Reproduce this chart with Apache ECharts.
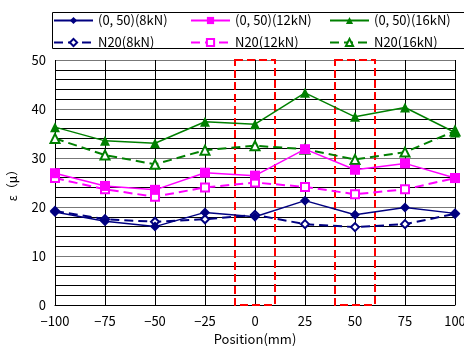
<!DOCTYPE html>
<html>
<head>
<meta charset="utf-8">
<script src="https://cdn.jsdelivr.net/npm/echarts@6/dist/echarts.min.js"></script>
<style>
  html, body { margin: 0; padding: 0; background: #fff; }
  #chart { width: 464px; height: 346px; }
</style>
</head>
<body>
<div id="chart"></div>
<script>
const positions = [-100, -75, -50, -25, 0, 25, 50, 75, 100]
const s8kN = [19.0, 17.1, 16.0, 18.9, 18.0, 21.3, 18.4, 19.9, 18.7]
const n8kN = [19.2, 17.5, 17.0, 17.5, 18.4, 16.5, 15.9, 16.5, 18.6]
const s12kN = [26.9, 24.3, 23.5, 27.0, 26.4, 31.8, 27.6, 28.9, 25.9]
const n12kN = [25.9, 23.6, 22.1, 24.0, 25.0, 24.1, 22.6, 23.6, 25.9]
const s16kN = [36.3, 33.5, 33.0, 37.4, 36.9, 43.3, 38.4, 40.3, 35.2]
const n16kN = [34.0, 30.6, 28.7, 31.6, 32.5, 31.8, 29.7, 31.2, 35.5]
const zones = [[-10, 10], [40, 60]]

const font = "'Noto Sans CJK JP', sans-serif"
const pair = (ys) => positions.map((x, i) => [x, ys[i]])

const mk = (name, data, color, dashed, symbol, size) => ({
  name,
  type: 'line',
  data: pair(data),
  symbol,
  symbolSize: size,
  showSymbol: true,
  z: dashed ? 3 : 4,
  lineStyle: { color, width: dashed ? 2 : 1.5, type: dashed ? [9, 5] : 'solid' },
  itemStyle: { color, borderColor: color, borderWidth: dashed ? 1.2 : 0 },
  emphasis: { disabled: true },
})

const series = [
  mk('(0, 50)(8kN)', s8kN, '#000080', false, 'diamond', 10),
  mk('N20(8kN)', n8kN, '#000080', true, 'emptyDiamond', 8),
  mk('(0, 50)(12kN)', s12kN, '#ff00ff', false, 'rect', 10),
  mk('N20(12kN)', n12kN, '#ff00ff', true, 'emptyRect', 8),
  mk('(0, 50)(16kN)', s16kN, '#008000', false, 'triangle', 10),
  mk('N20(16kN)', n16kN, '#008000', true, 'emptyTriangle', 9),
]
series[0].markArea = {
  silent: true,
  itemStyle: { color: 'transparent', borderColor: '#ff0000', borderWidth: 2, borderType: [8, 4] },
  data: zones.map(z => [{ xAxis: z[0], yAxis: 50 }, { xAxis: z[1], yAxis: 0 }]),
}

const leg = (left, names) => ({
  left, top: 14, orient: 'vertical', itemGap: 9, padding: 0,
  itemWidth: 39, itemHeight: 9,
  textStyle: { fontFamily: font, fontSize: 13, color: '#000' },
  data: names,
})

const chart = echarts.init(document.getElementById('chart'))
chart.setOption({
  animation: false,
  backgroundColor: '#fff',
  grid: { left: 55, right: 9, top: 60, bottom: 41, outerBoundsMode: 'none' },
  legend: [
    leg(53, ['(0, 50)(8kN)', 'N20(8kN)']),
    leg(190, ['(0, 50)(12kN)', 'N20(12kN)']),
    leg(329, ['(0, 50)(16kN)', 'N20(16kN)']),
  ],
  graphic: [{
    type: 'rect', left: 50, top: 10,
    shape: { width: 412, height: 36 },
    style: { fill: 'none', stroke: '#000', lineWidth: 1 },
  }],
  xAxis: {
    type: 'value', min: -100, max: 100, interval: 25,
    name: 'Position(mm)', nameLocation: 'middle', nameGap: 28,
    nameTextStyle: { fontFamily: font, fontSize: 13, color: '#000' },
    axisLine: { lineStyle: { color: '#000' } },
    axisTick: { show: false },
    axisLabel: { fontFamily: font, fontSize: 13, color: '#000', margin: 10,
      formatter: v => v < 0 ? '\u2212' + Math.abs(v) : String(v) },
    splitLine: { show: true, lineStyle: { color: '#000', width: 1 } },
  },
  yAxis: {
    type: 'value', min: 0, max: 50, interval: 10,
    name: 'ε（μ）', nameLocation: 'middle', nameGap: 37, nameRotate: 90,
    nameTextStyle: { fontFamily: font, fontSize: 12, color: '#000' },
    axisLine: { show: true, lineStyle: { color: '#000' } },
    axisTick: { show: false },
    axisLabel: { fontFamily: font, fontSize: 13, color: '#000', margin: 9 },
    splitLine: { show: true, lineStyle: { color: '#777', width: 1 } },
    minorTick: { show: false, splitNumber: 5 },
    minorSplitLine: { show: true, lineStyle: { color: '#000', width: 1 } },
  },
  series,
})
</script>
</body>
</html>
